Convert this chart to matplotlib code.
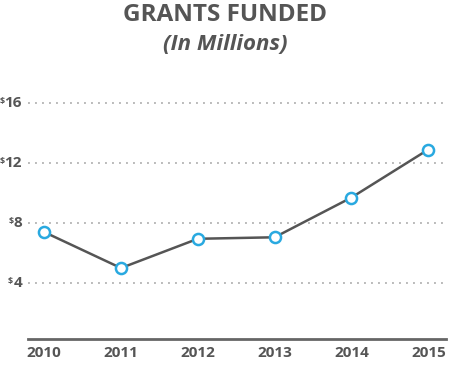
import matplotlib.pyplot as plt

plt.rcParams['font.family'] = ['Open Sans', 'DejaVu Sans']

years = [2010, 2011, 2012, 2013, 2014, 2015]
grants = [7.4, 5.0, 6.95, 7.05, 9.7, 12.9]
y_ticks = [4, 8, 12, 16]

text_gray = '#555555'
line_gray = '#555555'
marker_blue = '#29a9e0'

fig = plt.figure(figsize=(4.5, 3.66), dpi=100)
ax = fig.add_axes([28 / 450, 1 - 339 / 366, 418 / 450, (339 - 88) / 366])

ax.plot(years, grants, color=line_gray, lw=1.8, zorder=3,
        marker='o', markersize=8, markerfacecolor='white',
        markeredgecolor=marker_blue, markeredgewidth=1.8)

ax.set_xlim(2009.79, 2015.23)
ax.set_ylim(0.27, 17)

# dotted gridlines
ax.set_yticks(y_ticks)
ax.yaxis.grid(True, color='#bbbbbb', lw=1.4, dashes=(1, 2.6))
ax.set_axisbelow(True)
ax.tick_params(axis='y', length=0, labelleft=False)

# $ labels drawn by hand: small raised dollar sign before each number
for v in y_ticks:
    num = ax.text(-6 / 418, v, str(v), transform=ax.get_yaxis_transform(),
                  ha='right', va='center', fontsize=11, fontweight='bold',
                  color=text_gray)
    ax.annotate('$', xy=(0, 0.95), xycoords=num, ha='right', va='top',
                fontsize=6.5, fontweight='bold', color=text_gray)

ax.set_xticks(years)
ax.set_xticklabels([str(y) for y in years], fontsize=11, fontweight='bold',
                   color=text_gray)
ax.tick_params(axis='x', length=0, pad=5)

for side in ['top', 'right', 'left']:
    ax.spines[side].set_visible(False)
ax.spines['bottom'].set_color('#666666')
ax.spines['bottom'].set_linewidth(2)

fig.text(0.5, 1 - 15 / 366, 'GRANTS FUNDED', ha='center', va='center',
         fontsize=17.5, fontweight='bold', color=text_gray)
fig.text(0.5, 1 - 45 / 366, '(In Millions)', ha='center', va='center',
         fontsize=16, fontweight='bold', fontstyle='italic', color=text_gray)

fig.savefig('out.png', dpi=100)
